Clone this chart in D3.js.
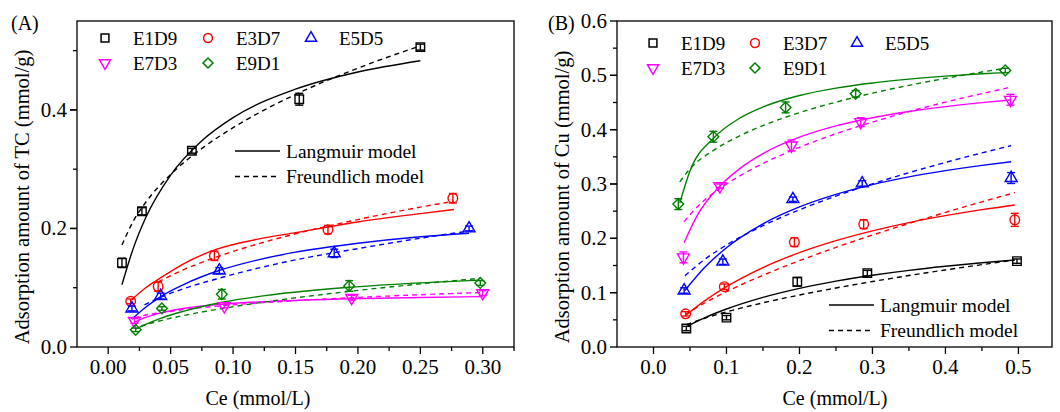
<!DOCTYPE html>
<html>
<head>
<meta charset="utf-8">
<script src="https://cdn.jsdelivr.net/npm/d3@7"></script>
<style>
    body { margin: 0; background: #fff; }
    svg { display: block; }
    .frame { fill: none; stroke: #000; stroke-width: 1.3; }
    .tick-line { stroke: #000; stroke-width: 1.3; }
    .curve { fill: none; stroke-width: 1.4; }
    .dashed { stroke-dasharray: 5, 4; }
</style>
</head>
<body>
<div id="chart"></div>
<script>
var seriesNames = ['E1D9', 'E3D7', 'E5D5', 'E7D3', 'E9D1'];

// (A) TC adsorption, measured points
var tcCe = [
    [0.011, 0.027, 0.067, 0.153, 0.250],
    [0.018, 0.040, 0.085, 0.176, 0.276],
    [0.019, 0.042, 0.089, 0.181, 0.289],
    [0.021, 0.093, 0.195, 0.300],
    [0.022, 0.043, 0.091, 0.193, 0.298]
];
var tcQe = [
    [0.142, 0.229, 0.331, 0.418, 0.506],
    [0.077, 0.102, 0.154, 0.198, 0.251],
    [0.065, 0.086, 0.129, 0.158, 0.200],
    [0.044, 0.069, 0.083, 0.091],
    [0.029, 0.065, 0.089, 0.103, 0.108]
];
var tcErr = [
    [0.008, 0.006, 0.004, 0.010, 0.005],
    [0.004, 0.008, 0.008, 0.007, 0.008],
    [0.004, 0.005, 0.005, 0.007, 0.004],
    [0.004, 0.003, 0.004, 0.004],
    [0.003, 0.003, 0.008, 0.009, 0.004]
];
// (A) fitted curves
var tcLangmuirCe = [
    [0.011, 0.02, 0.03, 0.05, 0.075, 0.1, 0.15, 0.2, 0.25],
    [0.019, 0.03, 0.04, 0.06, 0.087, 0.12, 0.15, 0.2, 0.25, 0.277],
    [0.019, 0.03, 0.042, 0.06, 0.0887, 0.12, 0.15, 0.2, 0.25, 0.289],
    [0.021, 0.03, 0.043, 0.06, 0.093, 0.13, 0.195, 0.25, 0.3],
    [0.022, 0.03, 0.043, 0.06, 0.0914, 0.13, 0.193, 0.25, 0.298]
];
var tcLangmuirQe = [
    [0.105, 0.166, 0.218, 0.290, 0.348, 0.387, 0.435, 0.464, 0.483],
    [0.080, 0.100, 0.114, 0.140, 0.165, 0.182, 0.193, 0.211, 0.225, 0.232],
    [0.047, 0.067, 0.085, 0.105, 0.129, 0.147, 0.160, 0.175, 0.186, 0.192],
    [0.042, 0.050, 0.058, 0.065, 0.0725, 0.077, 0.0815, 0.0836, 0.085],
    [0.030, 0.038, 0.049, 0.060, 0.0754, 0.0878, 0.1007, 0.1082, 0.1128]
];
var tcFreundlichCe = [
    [0.011, 0.02, 0.03, 0.05, 0.075, 0.1, 0.15, 0.2, 0.25],
    [0.04, 0.06, 0.087, 0.12, 0.15, 0.2, 0.25, 0.277],
    [0.029, 0.042, 0.06, 0.0887, 0.12, 0.15, 0.2, 0.25, 0.292],
    [0.021, 0.03, 0.043, 0.06, 0.093, 0.13, 0.195, 0.25, 0.3],
    [0.026, 0.03, 0.043, 0.06, 0.0914, 0.13, 0.193, 0.25, 0.298]
];
var tcFreundlichQe = [
    [0.172, 0.212, 0.244, 0.291, 0.335, 0.370, 0.426, 0.4705, 0.508],
    [0.110, 0.130, 0.152, 0.174, 0.191, 0.215, 0.236, 0.246],
    [0.071, 0.084, 0.098, 0.116, 0.133, 0.147, 0.166, 0.1835, 0.1966],
    [0.049, 0.054, 0.058, 0.063, 0.070, 0.0756, 0.0832, 0.0882, 0.092],
    [0.035, 0.0377, 0.045, 0.053, 0.065, 0.0773, 0.0938, 0.1065, 0.116]
];

// (B) Cu adsorption, measured points
var cuCe = [
    [0.045, 0.100, 0.197, 0.293, 0.498],
    [0.044, 0.097, 0.193, 0.288, 0.495],
    [0.042, 0.095, 0.191, 0.286, 0.490],
    [0.041, 0.091, 0.189, 0.284, 0.489],
    [0.034, 0.082, 0.181, 0.277, 0.482]
];
var cuQe = [
    [0.034, 0.054, 0.120, 0.136, 0.158],
    [0.061, 0.111, 0.193, 0.226, 0.234],
    [0.104, 0.157, 0.272, 0.301, 0.311],
    [0.165, 0.296, 0.371, 0.414, 0.455],
    [0.263, 0.387, 0.441, 0.466, 0.509]
];
var cuErr = [
    [0.004, 0.004, 0.008, 0.005, 0.004],
    [0.004, 0.005, 0.008, 0.008, 0.012],
    [0.005, 0.005, 0.004, 0.005, 0.010],
    [0.010, 0.004, 0.010, 0.008, 0.010],
    [0.010, 0.010, 0.010, 0.006, 0.004]
];
// (B) fitted curves
var cuLangmuirCe = [
    [0.045, 0.07, 0.1, 0.15, 0.2, 0.25, 0.3, 0.35, 0.4, 0.45, 0.495],
    [0.044, 0.07, 0.1, 0.15, 0.2, 0.25, 0.3, 0.35, 0.4, 0.45, 0.495],
    [0.043, 0.07, 0.1, 0.15, 0.2, 0.25, 0.3, 0.35, 0.4, 0.45, 0.49],
    [0.042, 0.06, 0.0909, 0.12, 0.15, 0.2, 0.25, 0.3, 0.35, 0.4, 0.45, 0.489],
    [0.036, 0.05, 0.0823, 0.12, 0.15, 0.2, 0.25, 0.3, 0.35, 0.4, 0.45, 0.482]
];
var cuLangmuirQe = [
    [0.0375, 0.0537, 0.0699, 0.0914, 0.108, 0.1212, 0.132, 0.141, 0.1485, 0.155, 0.160],
    [0.058, 0.0848, 0.111, 0.1462, 0.1737, 0.1957, 0.2138, 0.229, 0.2418, 0.2528, 0.2614],
    [0.104, 0.1462, 0.1828, 0.2268, 0.2579, 0.281, 0.2989, 0.3131, 0.3246, 0.3343, 0.341],
    [0.192, 0.2423, 0.296, 0.3302, 0.356, 0.3862, 0.4069, 0.422, 0.4335, 0.4425, 0.4498, 0.4546],
    [0.265, 0.324, 0.3843, 0.4226, 0.4418, 0.4629, 0.4765, 0.486, 0.493, 0.4985, 0.5028, 0.505]
];
var cuFreundlichCe = cuLangmuirCe;
var cuFreundlichQe = [
    [0.0411, 0.0528, 0.0646, 0.0813, 0.0957, 0.1086, 0.1205, 0.1315, 0.1418, 0.1516, 0.160],
    [0.0601, 0.081, 0.1018, 0.132, 0.1588, 0.1833, 0.206, 0.2274, 0.2477, 0.2672, 0.284],
    [0.131, 0.1611, 0.1877, 0.2232, 0.2525, 0.2778, 0.3003, 0.3208, 0.3397, 0.3572, 0.3705],
    [0.2307, 0.258, 0.2915, 0.3163, 0.3377, 0.3675, 0.3925, 0.414, 0.4332, 0.4506, 0.4664, 0.478],
    [0.304, 0.328, 0.3619, 0.3899, 0.4075, 0.4313, 0.4506, 0.4672, 0.4816, 0.4944, 0.5061, 0.513]
];

var tcXTicks = [0, 0.05, 0.10, 0.15, 0.20, 0.25, 0.30];
var tcYTicks = [0, 0.2, 0.4];
var cuXTicks = [0, 0.1, 0.2, 0.3, 0.4, 0.5];
var cuYTicks = [0, 0.1, 0.2, 0.3, 0.4, 0.5, 0.6];
var modelNames = ['Langmuir model', 'Freundlich model'];


var colors = ['#000000', '#ff0000', '#0000ff', '#ff00ff', '#008000'];
var serif = "'Liberation Serif', 'DejaVu Serif', serif";

function markerPath(i, size) {
    var s = size || 1;
    if (i === 0) return d3.symbol(d3.symbolSquare, 72 * s)();
    if (i === 1) return d3.symbol(d3.symbolCircle, 72 * s)();
    if (i === 2 || i === 3) return d3.symbol(d3.symbolTriangle, 62 * s)();
    return d3.symbol(d3.symbolSquare, 58 * s)();
}
function markerRotate(i) {
    if (i === 3) return ' rotate(180)';
    if (i === 4) return ' rotate(45)';
    return '';
}

function drawPanel(svg, p) {
    var x = d3.scaleLinear().domain(p.xDomain).range([p.left, p.right]);
    var y = d3.scaleLinear().domain(p.yDomain).range([p.bottom, p.top]);
    var g = svg.append('g');

    // ticks (outward, bottom and left only)
    var fmtX = d3.format(p.xFormat), fmtY = d3.format(p.yFormat);
    var xMinor = d3.range(p.xDomain[0], p.xDomain[1] + 1e-9, p.xMinorStep)
        .filter(function (v) { return v > p.xDomain[0] + 1e-9; });
    var yMinor = d3.range(0, p.yDomain[1] + 1e-9, p.yMinorStep)
        .filter(function (v) { return v > 1e-9 && v < p.yDomain[1] - 1e-9; });

    g.selectAll('line.xminor').data(xMinor).enter().append('line')
        .attr('class', 'tick-line')
        .attr('x1', function (d) { return x(d); }).attr('x2', function (d) { return x(d); })
        .attr('y1', p.bottom).attr('y2', function (d) {
            var major = p.xTicks.some(function (t) { return Math.abs(t - d) < 1e-6; });
            return p.bottom + (major ? 7 : 4);
        });
    g.selectAll('text.xlab').data(p.xTicks).enter().append('text')
        .attr('x', function (d) { return x(d); })
        .attr('y', p.bottom + 27)
        .attr('text-anchor', 'middle')
        .style('font-size', '21px')
        .text(function (d) { return fmtX(d); });

    g.selectAll('line.yminor').data(yMinor).enter().append('line')
        .attr('class', 'tick-line')
        .attr('y1', function (d) { return y(d); }).attr('y2', function (d) { return y(d); })
        .attr('x1', p.left).attr('x2', function (d) {
            var major = p.yTicks.some(function (t) { return Math.abs(t - d) < 1e-6; });
            return p.left - (major ? 7 : 4);
        });
    g.selectAll('line.ymajor').data(p.yTicks).enter().append('line')
        .attr('class', 'tick-line')
        .attr('y1', function (d) { return y(d); }).attr('y2', function (d) { return y(d); })
        .attr('x1', p.left).attr('x2', p.left - 7);
    g.selectAll('text.ylab').data(p.yTicks).enter().append('text')
        .attr('x', p.left - 10)
        .attr('y', function (d) { return y(d) + 7; })
        .attr('text-anchor', 'end')
        .style('font-size', '21px')
        .text(function (d) { return fmtY(d); });

    // fitted curves
    var clipId = 'clip-' + p.id;
    svg.append('clipPath').attr('id', clipId).append('rect')
        .attr('x', p.left).attr('y', p.top)
        .attr('width', p.right - p.left).attr('height', p.bottom - p.top);
    var curves = g.append('g').attr('clip-path', 'url(#' + clipId + ')');
    var line = d3.line()
        .x(function (d) { return x(d[0]); })
        .y(function (d) { return y(d[1]); })
        .curve(d3.curveMonotoneX);
    seriesNames.forEach(function (name, i) {
        curves.append('path')
            .attr('class', 'curve')
            .attr('stroke', colors[i])
            .attr('d', line(d3.zip(p.lCe[i], p.lQe[i])));
        curves.append('path')
            .attr('class', 'curve dashed')
            .attr('stroke', colors[i])
            .attr('d', line(d3.zip(p.fCe[i], p.fQe[i])));
    });

    // measured points with error bars
    seriesNames.forEach(function (name, i) {
        var pts = p.ce[i].map(function (c, k) { return [c, p.qe[i][k], p.err[i][k]]; });
        var pg = g.append('g').attr('stroke', colors[i]).attr('fill', 'none').attr('stroke-width', 1.4);
        pts.forEach(function (d) {
            var cx = x(d[0]), y1 = y(d[1] + d[2]), y2 = y(d[1] - d[2]);
            pg.append('line').attr('x1', cx).attr('x2', cx).attr('y1', y1).attr('y2', y2);
            pg.append('line').attr('x1', cx - 4).attr('x2', cx + 4).attr('y1', y1).attr('y2', y1);
            pg.append('line').attr('x1', cx - 4).attr('x2', cx + 4).attr('y1', y2).attr('y2', y2);
        });
        pg.selectAll('path').data(pts).enter().append('path')
            .attr('d', markerPath(i))
            .attr('fill', 'rgba(255,255,255,0.01)')
            .attr('transform', function (d) {
                return 'translate(' + x(d[0]) + ',' + y(d[1]) + ')' + markerRotate(i);
            });
    });

    // frame
    g.append('rect').attr('class', 'frame')
        .attr('x', p.left).attr('y', p.top)
        .attr('width', p.right - p.left).attr('height', p.bottom - p.top);

    // axis titles
    g.append('text')
        .attr('x', p.xTitleX).attr('y', 405)
        .attr('text-anchor', 'middle')
        .style('font-size', '20px')
        .text('Ce (mmol/L)');
    g.append('text')
        .attr('transform', 'translate(' + p.yTitleX + ',197) rotate(-90)')
        .attr('text-anchor', 'middle')
        .style('font-size', '20.5px')
        .text(p.yTitle);
    g.append('text')
        .attr('x', p.tagX).attr('y', 30)
        .style('font-size', '20px')
        .text(p.tag);

    // series legend
    var leg = g.append('g');
    seriesNames.forEach(function (name, i) {
        var col = i % 3, row = Math.floor(i / 3);
        var mx = p.legX + col * p.legColW, my = p.legY + row * 25;
        leg.append('path')
            .attr('d', markerPath(i, 0.85))
            .attr('fill', 'none').attr('stroke', colors[i]).attr('stroke-width', 1.5)
            .attr('transform', 'translate(' + mx + ',' + my + ')' + markerRotate(i));
        leg.append('text')
            .attr('x', mx + 28).attr('y', my + 7)
            .style('font-size', '19px')
            .text(name);
    });

    // model legend
    modelNames.forEach(function (name, k) {
        var ly = p.modelY + k * 25.5;
        leg.append('line')
            .attr('class', 'curve' + (k ? ' dashed' : ''))
            .attr('stroke', '#000')
            .attr('x1', p.modelX).attr('x2', p.modelX + 45)
            .attr('y1', ly).attr('y2', ly);
        leg.append('text')
            .attr('x', p.modelX + 51).attr('y', ly + 6.5)
            .style('font-size', '19.5px')
            .text(name);
    });
}

function main(domSelector) {
    var width = 1060, height = 412;
    var svg = d3.select(domSelector).append('svg')
        .attr('width', width)
        .attr('height', height)
        .attr('font-family', serif)
        .style('font-family', serif);

    drawPanel(svg, {
        id: 'a', tag: '(A)', tagX: 11,
        left: 77, right: 514, top: 21, bottom: 347,
        xDomain: [-0.025, 0.325], yDomain: [0, 0.55],
        xTicks: tcXTicks, yTicks: tcYTicks, xMinorStep: 0.025, yMinorStep: 0.1,
        xFormat: '.2f', yFormat: '.1f',
        ce: tcCe, qe: tcQe, err: tcErr,
        lCe: tcLangmuirCe, lQe: tcLangmuirQe, fCe: tcFreundlichCe, fQe: tcFreundlichQe,
        xTitleX: 258, yTitleX: 29, yTitle: 'Adsorption amount of TC (mmol/g)',
        legX: 105, legY: 38, legColW: 103,
        modelX: 235, modelY: 151
    });

    drawPanel(svg, {
        id: 'b', tag: '(B)', tagX: 548,
        left: 617, right: 1052, top: 21, bottom: 347,
        xDomain: [-0.05, 0.546], yDomain: [0, 0.6],
        xTicks: cuXTicks, yTicks: cuYTicks, xMinorStep: 0.05, yMinorStep: 0.05,
        xFormat: '.1f', yFormat: '.1f',
        ce: cuCe, qe: cuQe, err: cuErr,
        lCe: cuLangmuirCe, lQe: cuLangmuirQe, fCe: cuFreundlichCe, fQe: cuFreundlichQe,
        xTitleX: 835, yTitleX: 569, yTitle: 'Adsorption amount of Cu (mmol/g)',
        legX: 653, legY: 43, legColW: 102,
        modelX: 829, modelY: 305
    });
}

main('#chart');
</script>
</body>
</html>
